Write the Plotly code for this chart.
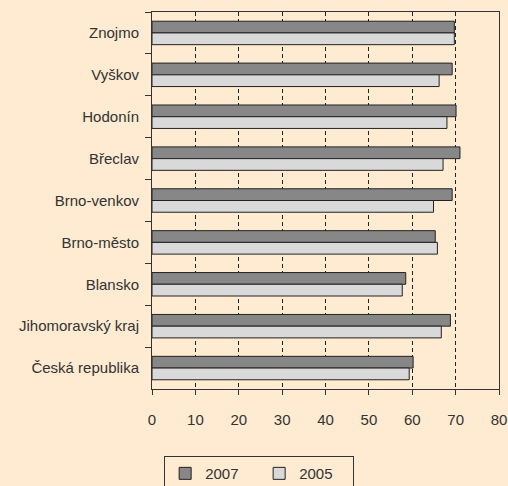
import plotly.graph_objects as go

categories = ["Znojmo", "Vyškov", "Hodonín", "Břeclav", "Brno-venkov",
              "Brno-město", "Blansko", "Jihomoravský kraj", "Česká republika"]
values_2007 = [69.7, 69.2, 70.1, 71.0, 69.2, 65.3, 58.5, 68.8, 60.2]
values_2005 = [69.7, 66.2, 68.0, 67.1, 64.9, 65.8, 57.7, 66.7, 59.3]
x_ticks = [0, 10, 20, 30, 40, 50, 60, 70, 80]

bg = "#FEEBD1"
font = dict(family="Liberation Sans, Arial, sans-serif", size=15, color="#333333")

fig = go.Figure()
fig.add_trace(go.Bar(y=categories, x=values_2007, orientation="h", name="2007",
                     marker=dict(color="#878787", line=dict(color="#222222", width=1))))
fig.add_trace(go.Bar(y=categories, x=values_2005, orientation="h", name="2005",
                     marker=dict(color="#D9D9D9", line=dict(color="#222222", width=1))))

fig.update_layout(
    width=508, height=500,
    paper_bgcolor=bg, plot_bgcolor=bg,
    font=font,
    barmode="group", bargap=0.44, bargroupgap=0,
    margin=dict(l=152, r=9, t=12, b=100),
    showlegend=True,
    legend=dict(orientation="h", x=0.035, xanchor="left", y=-0.178, yanchor="top",
                bordercolor="#333333", borderwidth=1, bgcolor=bg,
                font=dict(size=15, color="#333333"), entrywidth=49,
                entrywidthmode="pixels"),
)
fig.update_xaxes(range=[0, 80], tickvals=x_ticks, showgrid=True, gridcolor="#222222",
                 griddash="4px,3px", gridwidth=1, showline=True, linecolor="#333333",
                 linewidth=1, mirror=True, ticks="outside", ticklen=5, tickcolor="#333333",
                 ticklabelstandoff=12, zeroline=False, fixedrange=True, automargin=False)
fig.update_yaxes(autorange="reversed", showgrid=False, showline=True, linecolor="#333333",
                 linewidth=1, mirror=True, ticks="outside", ticklen=6, tickcolor="#333333",
                 tickson="boundaries", ticklabelstandoff=9, fixedrange=True,
                 automargin=False)

fig.write_html(
    "out.html",
    config={"displayModeBar": False},
    post_script=("document.body.style.margin='0';document.body.style.overflow='hidden';"
                 "document.body.style.background='%s';" % bg),
)
